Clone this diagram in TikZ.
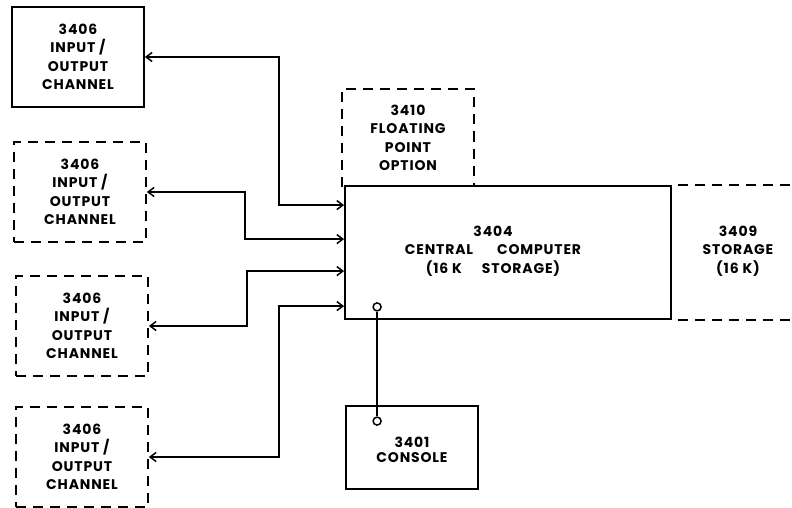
\documentclass[tikz,border=0pt]{standalone}
\usepackage{fontspec}
\setmainfont{Poppins}[LetterSpace=6]
\usetikzlibrary{arrows.meta,calc}

\tikzset{
  unit/.style={draw, line width=1.8pt, align=center, inner sep=0pt,
    font=\bfseries\fontsize{14}{18.5}\selectfont},
  iobox/.style={unit, minimum width=132pt, minimum height=100pt},
  addon/.style={line width=1.8pt, dash pattern=on 10pt off 7pt},
  link/.style={line width=1.5pt,
    {Straight Barb[length=6pt,width=9pt]}-{Straight Barb[length=6pt,width=9pt]}},
  port/.style={circle, draw, line width=1.5pt, inner sep=0pt, minimum size=8pt, fill=white},
}

\begin{document}
\begin{tikzpicture}[x=1pt,y=-1pt]
  \useasboundingbox (0,0) rectangle (792,508);

  % channels
  \node[iobox] (io1) at (78,57) {3406\\INPUT /\\OUTPUT\\CHANNEL};
  \node[iobox, addon] (io2) at (80,192) {3406\\INPUT /\\OUTPUT\\CHANNEL};
  \node[iobox, addon] (io3) at (82,326) {3406\\INPUT /\\OUTPUT\\CHANNEL};
  \node[iobox, addon] (io4) at (82,457) {3406\\INPUT /\\OUTPUT\\CHANNEL};

  % floating point option (open at the bottom)
  \node[unit, draw=none, minimum width=130pt, minimum height=96pt] (fpu) at (408,138)
    {3410\\FLOATING\\POINT\\OPTION};
  \draw[addon] (fpu.south west) |- (fpu.north east) -- (fpu.south east);

  % central computer
  \node[unit, minimum width=326pt, minimum height=133pt] (cpu) at (508,252.5) {};
  \node[unit, draw=none] (cpulbl) at (493,251)
    {3404\\CENTRAL\hspace{24pt}COMPUTER\\(16 K\hspace{20pt}STORAGE)};

  % extra storage
  \node[unit, draw=none] (stor) at (738,251) {3409\\STORAGE\\(16 K)};
  \draw[addon] ([xshift=6pt]cpu.north east) -- ++(121,0);
  \draw[addon] ([xshift=6pt]cpu.south east) -- ++(121,0);

  % console
  \node[unit, minimum width=132pt, minimum height=83pt,
    font=\bfseries\fontsize{14}{15.5}\selectfont] (con) at (412,447.5) {\\3401\\CONSOLE};

  % inputs on the computer
  \coordinate (in1) at ([yshift=-20pt]cpu.north west);
  \coordinate (in2) at ([yshift=-54pt]cpu.north west);
  \coordinate (in3) at ([yshift=-86pt]cpu.north west);
  \coordinate (in4) at ([yshift=-121pt]cpu.north west);

  \draw[link] (io1.east) -- ++(134,0) |- (in1);
  \draw[link] (io2.east) -- ++(98,0) |- (in2);
  \draw[link] (io3.east) -- ++(98,0) |- (in3);
  \draw[link] (io4.east) -- ++(130,0) |- (in4);

  % console cable
  \node[port] (p1) at ([xshift=33pt, yshift=13pt]cpu.south west) {};
  \node[port] (p2) at ([xshift=32pt, yshift=-16pt]con.north west) {};
  \draw[line width=1.5pt] (p1) -- (p2);
\end{tikzpicture}
\end{document}
